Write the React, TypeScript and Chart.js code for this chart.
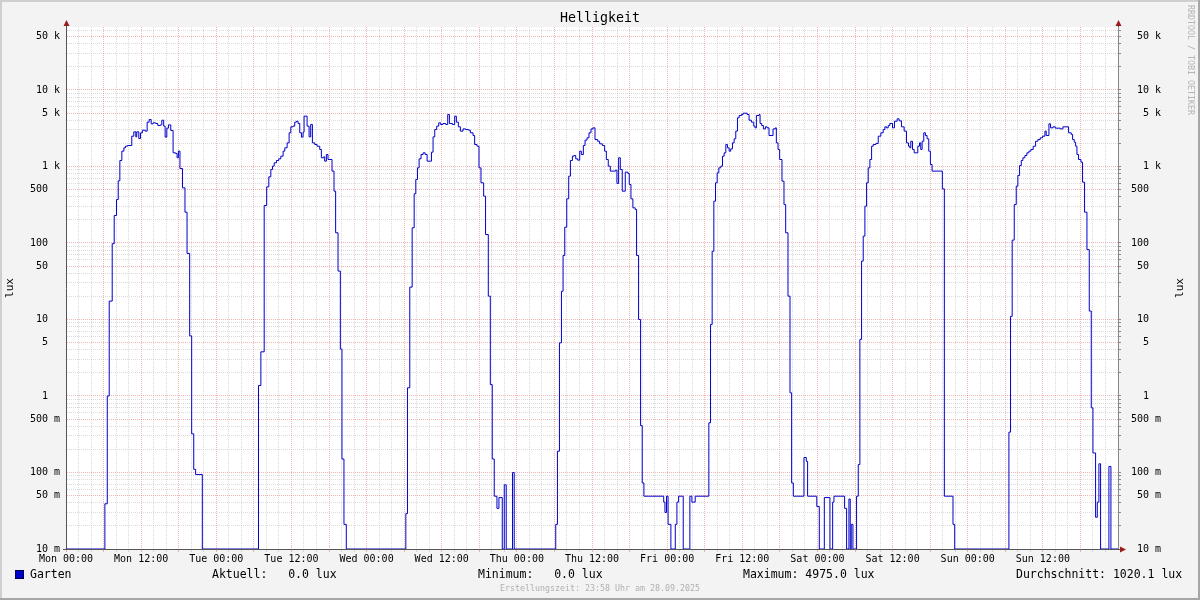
import React, { useEffect, useRef } from 'react';
import { Chart, registerables, LogarithmicScale } from 'chart.js';

Chart.register(...registerables);

// ---------- data (hour of week, lux); each value holds until the next point ----------
const monHours = [0, 6.21, 6.59, 6.9, 7.38, 7.7, 8.07, 8.34, 8.6, 8.92, 9.24, 9.5, 9.82, 10.5, 10.83, 11.15, 11.3, 11.63, 11.9, 12.2, 12.64, 12.96, 13.28, 13.6, 13.9, 14.34, 14.66, 15.08, 15.3, 15.6, 15.83, 16.1, 16.36, 16.73, 17.1, 17.5, 17.74, 17.95, 18.2, 18.6, 19.0, 19.33, 19.75, 20.07, 20.4, 20.7, 21.77];
const monLux = [0, 0.039, 1.0, 17.4, 98, 229, 370, 650, 1198, 1587, 1753, 1842, 1880, 2490, 2840, 2440, 2840, 2320, 2750, 2985, 2900, 3800, 4110, 3610, 3720, 3650, 3430, 3500, 4030, 3370, 2420, 3170, 3500, 2960, 1510, 1480, 1300, 1590, 940, 526, 253, 73, 6.1, 0.32, 0.11, 0.094, 0];

const tueHours = [30.74, 31.12, 31.65, 32.05, 32.39, 32.71, 32.98, 33.24, 33.61, 33.98, 34.3, 34.67, 34.94, 35.31, 35.63, 35.9, 36.27, 36.53, 36.8, 37.06, 37.33, 37.6, 37.86, 38.02, 38.5, 38.82, 39.08, 39.35, 39.72, 40.09, 40.52, 40.78, 41.15, 41.31, 41.58, 41.84, 42.48, 42.8, 43.06, 43.44, 43.81, 44.07, 44.39, 44.76];
const tueLux = [1.37, 3.78, 309, 542, 733, 914, 1010, 1117, 1198, 1260, 1365, 1587, 1753, 2037, 2757, 3300, 3370, 3800, 3905, 3650, 2757, 2420, 2810, 4550, 3370, 2440, 3540, 2037, 1940, 1842, 1670, 1300, 1338, 1174, 1435, 1234, 870, 476, 136, 43, 4.1, 0.15, 0.021, 0];

const wedHours = [54.27, 54.53, 54.9, 55.28, 55.6, 55.86, 56.13, 56.39, 56.7, 57.03, 57.35, 57.67, 58.36, 58.62, 58.89, 59.2, 59.52, 59.84, 60.2, 60.64, 60.96, 61.23, 61.7, 62.07, 62.34, 62.66, 62.98, 63.4, 63.83, 64.25, 64.57, 65.0, 65.26, 65.63, 65.95, 66.27, 66.7, 67.0, 67.44, 67.76, 68.07, 68.39, 68.82, 69.14, 69.67, 69.99, 70.3, 71.31, 71.58];
const wedLux = [0.029, 1.28, 26.5, 158, 440, 676, 960, 1260, 1435, 1509, 1435, 1174, 1540, 2440, 3040, 3370, 3720, 3540, 3650, 3540, 4780, 3650, 3540, 4550, 3800, 3300, 2900, 3100, 3040, 2985, 2757, 2540, 1940, 1842, 960, 612, 410, 129, 20.2, 1.41, 0.15, 0.049, 0.034, 0.047, 0, 0.069, 0, 0.1, 0];

const thuHours = [78.21, 78.48, 78.8, 79.12, 79.38, 79.65, 79.97, 80.28, 80.55, 80.87, 81.13, 81.4, 81.72, 82.04, 82.3, 82.62, 82.89, 83.2, 83.52, 83.84, 84.16, 84.48, 84.9, 85.22, 85.65, 86.02, 86.29, 86.6, 86.92, 87.77, 87.98, 88.25, 88.52, 88.83, 89.31, 89.74, 89.95, 90.22, 90.53, 90.9, 91.12, 91.44, 91.76, 92.02, 92.29, 95.45, 95.65, 95.9];
const thuLux = [0.021, 0.19, 4.95, 23.4, 68.7, 161, 378, 748, 1198, 1365, 1392, 1260, 1210, 1587, 1435, 1880, 2210, 2370, 2757, 3100, 3200, 2250, 2140, 1980, 1880, 1587, 1234, 1010, 870, 895, 600, 1300, 914, 476, 843, 810, 582, 378, 288, 274, 68.7, 10, 0.41, 0.073, 0.049, 0.041, 0.030, 0.049];

const friHours = [96.15, 96.6, 97.3, 97.56, 97.83, 98.57, 99.63, 99.95, 100.48, 102.66, 102.93, 103.19, 103.46, 103.72, 103.99, 104.25, 104.57, 104.84, 105.1, 105.37, 105.63, 105.9, 106.16, 106.43, 106.7, 106.96, 107.23, 107.5, 107.87, 108.13, 108.77, 109.08, 109.46, 109.83, 110.04, 110.25, 110.68, 110.84, 111.1, 111.37, 111.69, 111.96, 112.27, 112.91, 113.28, 113.44, 113.71, 113.97, 114.34, 114.66, 114.93, 115.3, 115.62, 115.88, 116.15, 117.85, 118.22, 118.43];
const friLux = [0.021, 0, 0.021, 0.041, 0.049, 0, 0.049, 0.041, 0.049, 0.446, 8.6, 78, 352, 612, 827, 960, 1010, 1365, 1509, 1940, 1753, 1587, 1700, 2037, 2300, 2900, 4330, 4640, 4780, 4975, 4780, 4030, 3800, 3370, 3200, 4640, 4780, 3650, 3430, 3100, 3300, 3200, 2540, 3100, 3200, 2037, 1670, 1234, 643, 318, 136, 20.2, 1.1, 0.073, 0.049, 0.157, 0.14, 0.049];

const satHours = [119.9, 120.3, 121.1, 122.0, 122.43, 122.64, 124.34, 124.66, 125.03, 125.24, 125.4, 125.67, 126.25, 126.52, 126.78, 127.05, 127.31, 127.58, 127.85, 128.11, 128.38, 128.65, 128.91, 129.34, 129.71, 130.13, 130.5, 130.77, 131.03, 131.3, 131.56, 131.99, 132.3, 132.73, 133.05, 133.42, 133.85, 134.22, 134.54, 134.75, 134.91, 135.18, 135.45, 136.03, 136.3, 136.5, 136.72, 136.98, 137.25, 137.51, 137.78, 138.04, 138.31, 139.95, 140.27, 141.65, 141.92];
const satLux = [0.036, 0, 0.047, 0, 0.041, 0.049, 0.034, 0, 0.045, 0, 0.021, 0, 0.049, 0.127, 5.5, 58, 123, 303, 612, 960, 1234, 1842, 1940, 2000, 2490, 2757, 3040, 3300, 3200, 3430, 3650, 3200, 3905, 4200, 3950, 3300, 2900, 2037, 1842, 1753, 2140, 1670, 1509, 1842, 2037, 1670, 2140, 2757, 2540, 2300, 1587, 1062, 870, 510, 0.049, 0.021, 0];

const sunHours = [150.58, 150.84, 151.1, 151.43, 151.75, 152.01, 152.28, 152.55, 152.81, 153.13, 153.45, 153.77, 154.09, 154.46, 154.84, 155.21, 155.58, 155.95, 156.33, 156.54, 156.97, 157.23, 157.61, 157.98, 158.78, 159.2, 160.11, 160.53, 160.75, 161.01, 161.23, 161.44, 161.7, 162.08, 162.34, 162.66, 163.04, 163.41, 163.73, 164.0, 164.42, 164.69, 164.95, 165.22, 166.55, 166.87, 168];
const sunLux = [0.337, 11, 109, 318, 553, 763, 1030, 1198, 1300, 1392, 1509, 1587, 1670, 1842, 2140, 2250, 2370, 2490, 2900, 2540, 3610, 3200, 3300, 3170, 3100, 3300, 2757, 2620, 2250, 2080, 1842, 1435, 1234, 1140, 624, 253, 82, 12.9, 0.7, 0.18, 0.026, 0.041, 0.13, 0, 0.12, 0, 0];

const xTickHours = [0, 12, 24, 36, 48, 60, 72, 84, 96, 108, 120, 132, 144, 156];
const xTickLabels = ['Mon 00:00', 'Mon 12:00', 'Tue 00:00', 'Tue 12:00', 'Wed 00:00', 'Wed 12:00', 'Thu 00:00', 'Thu 12:00', 'Fri 00:00', 'Fri 12:00', 'Sat 00:00', 'Sat 12:00', 'Sun 00:00', 'Sun 12:00'];

const yTickValues = [0.01, 0.05, 0.1, 0.5, 1, 5, 10, 50, 100, 500, 1000, 5000, 10000, 50000];
const yTickLabels = ['10 m', '50 m', '100 m', '500 m', '1', '5', '10', '50', '100', '500', '1 k', '5 k', '10 k', '50 k'];

const seriesName = 'Garten';
const unit = 'lux';
const statLabels = ['Aktuell:', 'Minimum:', 'Maximum:', 'Durchschnitt:'];
const statValues = [0.0, 0.0, 4975.0, 1020.1];
const chartTitle = 'Helligkeit';
const footerText = 'Erstellungszeit: 23:58 Uhr am 28.09.2025';
const watermark = 'RRDTOOL / TOBI OETIKER';

// ---------- scale / style constants ----------
const Y_MIN = 0.01;
const Y_MAX = 66600;
const MONO = '"DejaVu Sans Mono", monospace';
const LINE_COLOR = '#0000cc';
const GRID_MINOR = 'rgba(160,160,160,0.38)';
const GRID_MAJOR = 'rgba(225,90,90,0.45)';
const ARROW = '#9b1c1c';

// rrdtool draws values <= 0 at the floor of a log axis
class RrdLogScale extends LogarithmicScale {
  static id = 'rrdlog';
  parse(raw: any, index: number) {
    const v = super.parse(raw, index);
    if (v === undefined && Number(raw) === 0) return Y_MIN;
    return v;
  }
}
Chart.register(RrdLogScale as any);

const days: [number[], number[]][] = [
  [monHours, monLux], [tueHours, tueLux], [wedHours, wedLux], [thuHours, thuLux],
  [friHours, friLux], [satHours, satLux], [sunHours, sunLux],
];
const points = days.flatMap(([h, v]) => h.map((x, i) => ({ x, y: v[i] })));

const yGrid: number[] = [];
for (let e = -2; e <= 4; e++) {
  for (let m = 1; m <= 9; m++) {
    const v = parseFloat(`${m}e${e}`);
    if (v <= Y_MAX) yGrid.push(v);
  }
}
const xGrid: number[] = [];
for (let h = 0; h < 168; h += 2) xGrid.push(h);

const yLabelOf = (value: number) => {
  const i = yTickValues.indexOf(value);
  if (i < 0) return '';
  const l = yTickLabels[i];
  return (l.includes(' ') ? l : l + '  ').padStart(5);
};
const isMajorY = (v: number) => yTickValues.indexOf(v) >= 0;
const tickValueOf = (c: any) => (c && c.tick ? Number(c.tick.value) : NaN);

const decor = {
  id: 'rrdDecor',
  beforeDraw(chart: any) {
    const { ctx, chartArea: a, width, height } = chart;
    ctx.save();
    ctx.fillStyle = '#f3f3f3';
    ctx.fillRect(0, 0, width, height);
    ctx.fillStyle = '#ffffff';
    ctx.fillRect(a.left, a.top, a.right - a.left, a.bottom - a.top);
    ctx.restore();
  },
  afterDraw(chart: any) {
    const { ctx, chartArea: a, width, height } = chart;
    ctx.save();
    // frame
    ctx.fillStyle = '#cfcfcf';
    ctx.fillRect(0, 0, width, 2);
    ctx.fillRect(0, 0, 2, height);
    ctx.fillStyle = '#a6a6a6';
    ctx.fillRect(0, height - 2, width, 2);
    ctx.fillRect(width - 2, 0, 2, height);

    // axis extensions + arrows
    const lx = Math.round(a.left) + 0.5;
    const rx = Math.round(a.right) + 0.5;
    const by = Math.round(a.bottom) + 0.5;
    ctx.strokeStyle = '#555';
    ctx.lineWidth = 1;
    ctx.beginPath();
    ctx.moveTo(lx, a.top); ctx.lineTo(lx, a.top - 4);
    ctx.moveTo(rx, a.top); ctx.lineTo(rx, a.top - 4);
    ctx.moveTo(a.right, by); ctx.lineTo(a.right + 4, by);
    ctx.moveTo(a.left - 3, by); ctx.lineTo(a.left, by);
    ctx.stroke();
    ctx.fillStyle = ARROW;
    const up = (x: number) => {
      ctx.beginPath();
      ctx.moveTo(x - 3, a.top - 1);
      ctx.lineTo(x + 3, a.top - 1);
      ctx.lineTo(x, a.top - 7);
      ctx.closePath();
      ctx.fill();
    };
    up(lx); up(rx);
    ctx.beginPath();
    ctx.moveTo(a.right + 2, by - 3);
    ctx.lineTo(a.right + 2, by + 3);
    ctx.lineTo(a.right + 8, by);
    ctx.closePath();
    ctx.fill();

    // title
    ctx.fillStyle = '#000';
    ctx.textBaseline = 'middle';
    ctx.textAlign = 'center';
    ctx.font = `13.3px ${MONO}`;
    ctx.fillText(chartTitle, width / 2, 19);

    // right axis unit label
    ctx.save();
    ctx.translate(1180, (a.top + a.bottom) / 2);
    ctx.rotate(-Math.PI / 2);
    ctx.font = `11px ${MONO}`;
    ctx.fillText(unit, 0, 0);
    ctx.restore();

    // watermark
    ctx.save();
    ctx.translate(1190, 60);
    ctx.rotate(Math.PI / 2);
    ctx.font = `8.3px ${MONO}`;
    ctx.fillStyle = '#b4b4b4';
    ctx.fillText(watermark, 0, 0);
    ctx.restore();

    // legend
    ctx.fillStyle = LINE_COLOR;
    ctx.fillRect(15, 570, 9, 9);
    ctx.strokeStyle = 'rgba(0,0,0,0.6)';
    ctx.strokeRect(15.5, 570.5, 8, 8);
    ctx.fillStyle = '#000';
    ctx.textAlign = 'left';
    ctx.font = `11.5px ${MONO}`;
    ctx.fillText(seriesName, 30, 575);
    const xs = [212, 478, 743, 1016];
    statLabels.forEach((l, i) => {
      ctx.fillText(`${l} ${statValues[i].toFixed(1).padStart(5)} ${unit}`, xs[i], 575);
    });

    // footer
    ctx.textAlign = 'center';
    ctx.font = `8.3px ${MONO}`;
    ctx.fillStyle = '#b0b0b0';
    ctx.fillText(footerText, width / 2, 589);
    ctx.restore();
  },
};

const tickFont = { family: MONO, size: 10 };

export default function App() {
  const ref = useRef<HTMLCanvasElement>(null);
  useEffect(() => {
    const chart = new Chart(ref.current as HTMLCanvasElement, {
      type: 'line',
      data: {
        datasets: [
          {
            label: seriesName,
            data: points as any,
            borderColor: LINE_COLOR,
            backgroundColor: LINE_COLOR,
            borderWidth: 1,
            pointRadius: 0,
            stepped: true,
            fill: false,
            yAxisID: 'y',
            xAxisID: 'x',
          },
        ],
      },
      options: {
        responsive: false,
        animation: false,
        devicePixelRatio: 1,
        events: [],
        layout: { padding: { top: 27, left: 0, right: 0, bottom: 0 } },
        plugins: {
          legend: { display: false },
          title: { display: false },
          tooltip: { enabled: false },
        },
        scales: {
          x: {
            type: 'linear',
            min: 0,
            max: 168,
            bounds: 'data',
            afterFit: (s: any) => { s.height = 51; },
            afterBuildTicks: (s: any) => { s.ticks = xGrid.map((v) => ({ value: v })); },
            ticks: {
              autoSkip: false,
              maxRotation: 0,
              minRotation: 0,
              padding: 1,
              color: '#000',
              font: tickFont,
              callback: (v: any) => {
                const i = xTickHours.indexOf(Number(v));
                return i >= 0 ? xTickLabels[i] : '';
              },
            },
            grid: {
              color: (c: any) => (tickValueOf(c) % 6 === 0 ? GRID_MAJOR : GRID_MINOR),
              tickColor: (c: any) => (tickValueOf(c) % 6 === 0 ? GRID_MAJOR : GRID_MINOR),
              lineWidth: 1,
              drawTicks: true,
              tickLength: 3,
              tickBorderDash: [],
            },
            border: { display: true, color: '#555', width: 1, dash: [1, 1] },
          },
          y: {
            type: 'rrdlog' as any,
            position: 'left',
            min: Y_MIN,
            max: Y_MAX,
            bounds: 'data',
            afterFit: (s: any) => { s.width = 66; },
            afterBuildTicks: (s: any) => { s.ticks = yGrid.map((v) => ({ value: v })); },
            ticks: {
              autoSkip: false,
              padding: 6,
              color: '#000',
              font: tickFont,
              callback: (v: any) => yLabelOf(Number(v)),
            },
            grid: {
              color: (c: any) => (isMajorY(tickValueOf(c)) ? GRID_MAJOR : GRID_MINOR),
              lineWidth: 1,
              drawTicks: false,
            },
            border: { display: true, color: '#555', width: 1, dash: [1, 1] },
            title: {
              display: true,
              text: unit,
              color: '#000',
              font: { family: MONO, size: 11 },
              padding: { top: 3.5, bottom: 0 },
            },
          },
          y2: {
            type: 'rrdlog' as any,
            position: 'right',
            min: Y_MIN,
            max: Y_MAX,
            bounds: 'data',
            afterFit: (s: any) => { s.width = 82; },
            afterBuildTicks: (s: any) => { s.ticks = yGrid.map((v) => ({ value: v })); },
            ticks: {
              autoSkip: false,
              padding: 10,
              crossAlign: 'near',
              color: '#000',
              font: tickFont,
              callback: (v: any) => yLabelOf(Number(v)),
            },
            grid: {
              drawOnChartArea: false,
              drawTicks: true,
              tickLength: 3,
              tickColor: '#888',
              tickBorderDash: [],
            },
            border: { display: true, color: '#888', width: 1 },
          },
        },
      } as any,
      plugins: [decor],
    });
    return () => chart.destroy();
  }, []);
  return (
    <div style={{ position: 'absolute', left: 0, top: 0, width: 1200, height: 600 }}>
      <canvas ref={ref} width={1200} height={600} style={{ display: 'block', width: 1200, height: 600 }} />
    </div>
  );
}
